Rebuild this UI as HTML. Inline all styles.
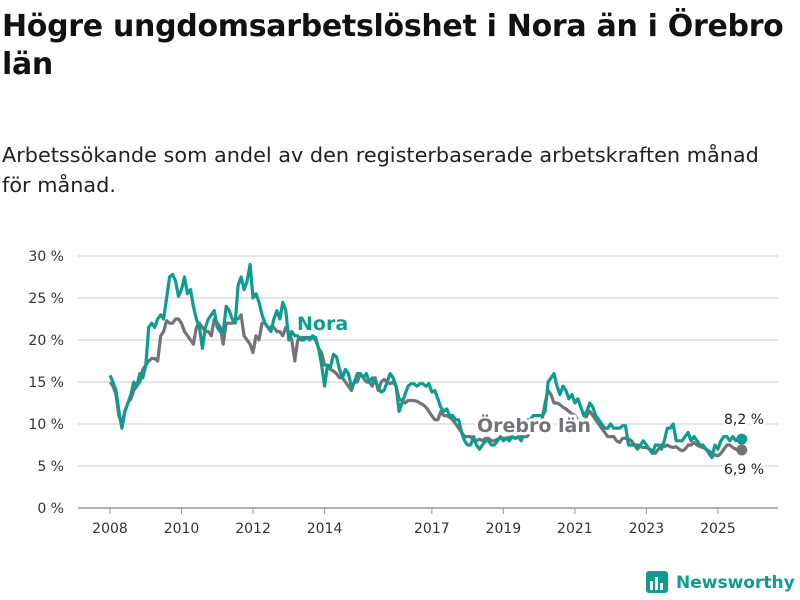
<!DOCTYPE html>
<html><head><meta charset="utf-8"><style>
body{margin:0;width:800px;height:600px;background:#fff;font-family:"Liberation Sans","DejaVu Sans",sans-serif;overflow:hidden;position:relative}
h1{position:absolute;left:2px;top:8px;margin:0;font-family:"DejaVu Sans",sans-serif;font-size:30px;line-height:38px;font-weight:bold;color:#111;letter-spacing:-0.3px;width:795px}
.sub{position:absolute;left:2px;top:140px;margin:0;font-family:"DejaVu Sans",sans-serif;font-size:20.8px;line-height:30px;color:#222;width:785px}
svg{position:absolute;left:0;top:0}
svg text{font-family:"DejaVu Sans",sans-serif}
</style></head><body>
<h1>Högre ungdomsarbetslöshet i Nora än i Örebro län</h1>
<p class="sub">Arbetssökande som andel av den registerbaserade arbetskraften månad för månad.</p>
<svg width="800" height="600">
<g id="grid"></g><g id="lines"></g><g id="labels"></g>
<g>
<rect x="646" y="571" width="22" height="22" rx="3" fill="#0e9c8f"/>
<rect x="650" y="581" width="3" height="9" fill="#fff"/><rect x="655" y="577" width="3" height="13" fill="#fff"/><rect x="660" y="583" width="3" height="7" fill="#fff"/>
<text x="676" y="588" font-size="17" font-weight="bold" fill="#0e9c8f">Newsworthy</text>
</g>
</svg>
<script>
const yTicks=[0,5,10,15,20,25,30];
const xTickYears=[2008,2010,2012,2014,2017,2019,2021,2023,2025];
const nora=[
15.8,15,14,11.5,9.5,11.5,12.5,13.5,15,14.5,16,15.5,
17,21.5,22,21.5,22.5,23,22.5,25,27.5,27.8,27,25.2,
26,27.5,25.5,26,24,22.5,21.5,19,21.5,22.5,23,23.5,
21.5,21,21,24,23.5,22.5,22,26.5,27.5,26,27,29,
25,25.5,24.5,23,22,21.5,21,22.5,23.5,22.5,24.5,23.5,
20,21,20.5,20.5,20,20,20.3,20,20.5,20.3,19,17,
14.5,17,16.8,18.3,18,16.5,15.5,16.5,16,14.5,15,16,
16,15.5,16,15,15.5,15,14.5,13.8,14,15,16,15.5,
14.5,11.5,12.5,13.5,14.5,14.8,14.8,14.5,14.8,14.8,14.5,14.8,
13.8,14,13,12,11.5,11.8,11,11,10.5,10.5,9,8,
7.5,7.5,8.5,7.5,7,7.5,8,8,7.5,7.5,8,8.5,
8,8.3,8,8.5,8.3,8.5,8,9,10.5,10.5,11,11,
11,11,11.5,15,15.5,16,14.5,13.5,14.5,14,13,13.5,
12.5,13,12,11,11.5,12.5,12,11,10.5,10,9.5,9.5,
10,9.5,9.5,9.5,9.8,9.8,7.5,7.5,7.5,7,7.5,8,
7.5,7,6.5,7.5,7.5,7,8,9.5,9.5,10,8,8,
8,8.5,9,8,8.5,8,7.5,7.5,7,6.5,6,7.5,
7,8,8.5,8.5,8,8.5,8,8.2,8.2];
const orebro=[
15,14.5,13.5,11,10,11.5,12.5,13,14,14.5,15,16.5,
17,17.5,17.8,17.8,17.5,20.5,21,22.3,22,22,22.5,22.5,
22,21,20.5,20,19.5,21.5,22,21.5,21,21,20.5,22.5,
22,21.5,19.5,22,22,22,22.5,22.5,23,20.5,20,19.5,
18.5,20.5,20,22,22,21.5,21.5,21.5,21,21,20.5,21.5,
21,20,17.5,20,20.3,20.3,20.3,20.3,20.3,20,19,18.5,
17,17,16.5,16.3,16,15.5,15.5,15,14.5,14,15,15,
16,15.5,15,15,14.5,15.5,14,15,15.3,15,14.8,15,
14.5,13,12.8,12.5,12.8,12.8,12.8,12.7,12.5,12.3,12,11.5,
11,10.5,10.5,11.5,11,11,10.8,10.5,10,9.5,9,8.5,
8.5,8.5,8,8,8.2,8,8.3,8.3,8,8,8.2,8.3,
8.3,8.3,8.4,8.4,8.3,8.4,8.5,8.5,8.5,9,9,10.5,
10,10.5,12.5,14,13.5,12.5,12.5,12.3,12,11.8,11.5,11.2,
11,10.5,10.5,10,11,11.5,11,10.5,10,9.5,9,8.5,
8.5,8.5,8,7.8,8.3,8.3,8.2,8,7.5,7.5,7.3,7.2,
7.2,7,6.8,6.5,7,7.5,7.3,7.5,7.3,7.2,7.3,7,
6.8,7,7.5,7.5,7.8,7.5,7.3,7.2,7,6.8,6.5,6.3,
6.2,6.5,7,7.5,7.5,7.2,7,6.9,6.9];
const NS="http://www.w3.org/2000/svg";
const x0=110,pxYear=35.76;
function xm(i){return x0+i*pxYear/12;}
function xy(yr){return x0+(yr-2008)*pxYear;}
function yv(v){return 508-v*8.4;}
function mk(t,a,p){const e=document.createElementNS(NS,t);for(const k in a)e.setAttribute(k,a[k]);p.appendChild(e);return e;}
const grid=document.getElementById('grid');
yTicks.forEach(v=>{
 const l=mk('line',{x1:78,x2:778,y1:yv(v),y2:yv(v),stroke:v===0?'#999':'#ddd','stroke-width':1.5},grid);
 
 
 const t=mk('text',{x:64,y:yv(v)+5,'font-size':14,'text-anchor':'end',fill:'#333'},grid);t.textContent=v+' %';
 
 
});
xTickYears.forEach(yr=>{
 const x=xy(yr);
 const tk=mk('line',{x1:x,x2:x,y1:508,y2:514,stroke:'#999'},grid);
 
 
 const t=mk('text',{x:x,y:533,'font-size':14,'text-anchor':'middle',fill:'#333'},grid);t.textContent=yr;
 
 
});
const lines=document.getElementById('lines');
function drawSeries(arr,color,name){
 const d=arr.map((v,i)=>(i?'L':'M')+xm(i).toFixed(1)+','+yv(v).toFixed(1)).join('');
 const p=mk('path',{d:d,fill:'none',stroke:color,'stroke-width':3.2,'stroke-linejoin':'round'},lines);
 
 
 const n=arr.length-1;
 const c=mk('circle',{cx:xm(n),cy:yv(arr[n]),r:5.5,fill:color},lines);
 
 
}
drawSeries(orebro,'#737278','orebro');
drawSeries(nora,'#0e9c8f','nora');
const lab=document.getElementById('labels');
function label(txt,x,y,col,size,w,name,halo){
 if(halo){const h=mk('text',{x:x,y:y,'font-size':size,'font-weight':w,fill:'#fff',stroke:'#fff','stroke-width':6,'stroke-linejoin':'round'},lab);h.textContent=txt;}
 const t=mk('text',{x:x,y:y,'font-size':size,'font-weight':w,fill:col},lab);t.textContent=txt;
 
 
}
label('Nora',297,330,'#0e9c8f',19,'bold','nora-series-label',true);
label('Örebro län',477,432,'#737278',19,'bold','orebro-series-label',true);
label('8,2 %',724,424,'#222',14,'normal','nora-end-value',true);
label('6,9 %',724,474,'#222',14,'normal','orebro-end-value',true);
</script>
</body></html>
